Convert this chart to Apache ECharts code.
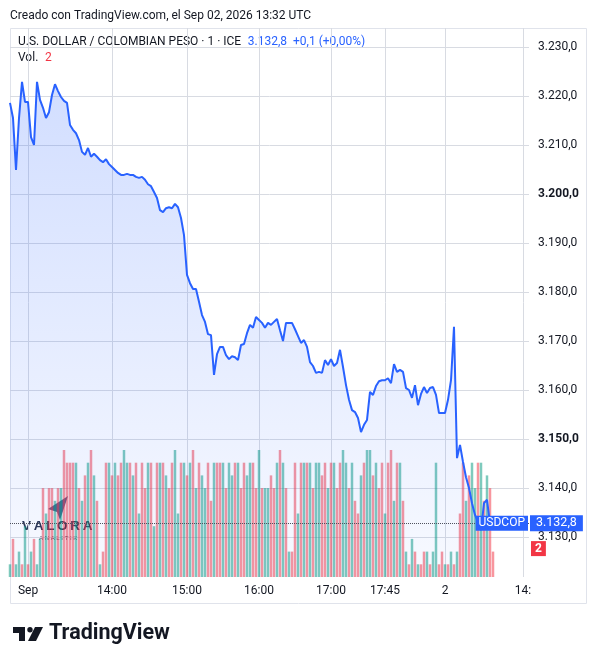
<!DOCTYPE html>
<html>
<head>
<meta charset="utf-8">
<script src="https://cdn.jsdelivr.net/npm/echarts@6/dist/echarts.min.js"></script>
<style>
  html, body { margin: 0; padding: 0; background: #fff; }
  #chart { width: 598px; height: 664px; }
</style>
</head>
<body>
<div id="chart"></div>
<script>
// USD/COP 1 minuto - precio de cierre (lectura aproximada del gráfico)
const priceVals = [
  3218.6, 3215.5, 3204.9, 3215.5, 3222.9, 3218.8, 3218.8, 3211.6, 3210.0, 3222.9,
  3219.2, 3217.6, 3215.5, 3216.7, 3220.2, 3222.4, 3221.0, 3219.8, 3219.0, 3218.6,
  3214.1, 3213.1, 3212.4, 3211.0, 3208.6, 3208.0, 3209.4, 3207.6, 3208.2, 3207.6,
  3206.9, 3206.5, 3207.1, 3206.1, 3205.5, 3204.9, 3204.3, 3203.9, 3203.9, 3204.1,
  3203.9, 3203.9, 3203.5, 3203.3, 3203.5, 3202.9, 3202.0, 3201.6, 3200.4, 3199.2,
  3196.7, 3196.3, 3197.1, 3197.3, 3197.1, 3198.0, 3197.3, 3195.1, 3191.6, 3183.5,
  3181.8, 3180.6, 3180.6, 3178.0, 3175.3, 3173.9, 3171.4, 3171.2, 3163.1, 3167.3,
  3168.8, 3168.8, 3167.1, 3166.3, 3166.9, 3166.7, 3166.1, 3169.2, 3169.4, 3171.6,
  3173.3, 3172.7, 3174.9, 3174.3, 3173.7, 3172.7, 3173.7, 3173.3, 3173.9, 3174.5,
  3172.2, 3170.0, 3173.7, 3173.7, 3173.7, 3172.4, 3171.0, 3169.6, 3170.2, 3168.8,
  3165.7, 3164.9, 3163.5, 3163.7, 3163.5, 3166.1, 3165.1, 3166.3, 3164.9, 3165.5,
  3168.2, 3164.7, 3161.0, 3158.0, 3155.9, 3155.5, 3154.3, 3151.4, 3152.9, 3153.9,
  3159.6, 3159.0, 3160.8, 3161.8, 3162.0, 3162.0, 3162.4, 3161.4, 3165.3, 3163.7,
  3164.1, 3163.7, 3160.4, 3160.0, 3158.4, 3161.0, 3156.9, 3159.2, 3160.6, 3159.4,
  3160.4, 3160.6, 3159.0, 3155.3, 3155.3, 3155.3, 3158.0, 3162.0, 3172.9, 3146.1,
  3148.8, 3145.3, 3142.2, 3140.0, 3136.9, 3134.5, 3133.0, 3131.4, 3136.9, 3137.6,
  3132.8
];

// volumen por barra y dirección (G = sube, R = baja)
const volVals = [
  1, 3, 1, 2, 1, 4, 1, 2, 3, 1,
  3, 7, 5, 7, 7, 6, 7, 7, 10, 9,
  9, 9, 9, 7, 6, 8, 9, 10, 8, 6,
  1, 2, 9, 9, 8, 9, 8, 9, 10, 9,
  9, 8, 9, 5, 9, 7, 9, 9, 4, 9,
  9, 9, 8, 7, 9, 10, 5, 9, 9, 8,
  9, 10, 7, 9, 8, 7, 9, 6, 9, 9,
  9, 9, 7, 9, 8, 9, 9, 7, 9, 8,
  9, 9, 7, 10, 7, 7, 7, 8, 7, 9,
  10, 9, 7, 2, 2, 9, 5, 9, 9, 9,
  9, 7, 9, 9, 8, 9, 7, 9, 9, 7,
  9, 10, 9, 7, 9, 6, 5, 8, 9, 10,
  10, 8, 9, 7, 9, 5, 9, 10, 6, 9,
  9, 6, 2, 1, 3, 2, 1, 1, 2, 2,
  1, 2, 9, 1, 2, 1, 1, 2, 1, 2,
  5, 9, 6, 8, 9, 7, 9, 9, 6, 8,
  7, 2
];
const volDir =
  "GRGGRGRGRG" + "GRGRRGRGRR" + "RRGRGRGRGR" + "GRRGRGRRGG" +
  "RGRGRRGRGR" + "GRGRRGGRGR" + "GRGRGGRRGR" + "RGRGGRGRRG" +
  "GRRGRGGRRG" + "RGRGRRGRGR" + "GRGGRRGRGR" + "RGGRGRRGRG" +
  "GRGRRGRRGR" + "GRGRGRGRRG" + "RGGRRGRGRG" + "RRGRGGRGRG" + "RR";

// eje de tiempo: una posición por barra, etiquetas sólo en algunas
const slots = Array.from({ length: 174 }, (v, k) => k);
const tickIdx = [6, 34, 59, 83, 107, 125, 145, 171];
const tickText = ["Sep", "14:00", "15:00", "16:00", "17:00", "17:45", "2", "14:"];

const lastPrice = priceVals[priceVals.length - 1];
const lastVol = volVals[volVals.length - 1];

const font = "Roboto, 'Liberation Sans', sans-serif";
const blue = "#2962ff";
const ink = "#131722";
const gridColor = "#d8dbe2";
const upColor = "rgba(8,153,129,0.52)";
const downColor = "rgba(242,54,69,0.52)";
const clear = "rgba(0,0,0,0)";

function fmtPrice(v) {
  const s = v.toFixed(1).split(".");
  return s[0].replace(/\B(?=(\d{3})+(?!\d))/g, ".") + "," + s[1];
}

const chart = echarts.init(document.getElementById("chart"));
chart.setOption({
  animation: false,
  backgroundColor: "#fff",
  textStyle: { fontFamily: font },
  title: {
    text: "Creado con TradingView.com, el Sep 02, 2026 13:32 UTC",
    left: 5,
    top: 5,
    textStyle: { fontSize: 12, fontWeight: "normal", color: ink, fontFamily: font },
  },
  grid: [
    { left: 10, right: 69, top: 28, bottom: 87, outerBoundsMode: "none", containLabel: false },
    { left: 10, right: 69, top: 450, bottom: 87, outerBoundsMode: "none", containLabel: false },
  ],
  xAxis: [
    {
      type: "category",
      gridIndex: 0,
      data: slots,
      boundaryGap: false,
      axisLine: { show: false },
      axisTick: { show: false },
      axisLabel: {
        interval: (i) => tickIdx.includes(i),
        formatter: (v) => tickText[tickIdx.indexOf(Number(v))] || "",
        color: ink,
        fontSize: 12,
        margin: 8,
      },
      splitLine: {
        show: true,
        interval: (i) => tickIdx.includes(i),
        lineStyle: { color: gridColor, width: 1 },
      },
    },
    {
      type: "category",
      gridIndex: 1,
      data: slots,
      boundaryGap: false,
      show: false,
    },
  ],
  yAxis: [
    {
      type: "value",
      gridIndex: 0,
      position: "right",
      min: 3121.84,
      max: 3233.88,
      splitNumber: 11,
      minInterval: 10,
      maxInterval: 10,
      axisLine: { show: false },
      axisTick: { show: false },
      axisLabel: {
        showMinLabel: false,
        showMaxLabel: false,
        margin: 9,
        color: ink,
        fontSize: 12,
        formatter: (v) => (Math.round(v) % 50 === 0 ? "{b|" + fmtPrice(v) + "}" : fmtPrice(v)),
        rich: { b: { fontWeight: "bold", fontSize: 12, color: ink } },
      },
      splitLine: {
        show: true,
        showMinLine: false,
        showMaxLine: false,
        lineStyle: { color: gridColor, width: 1 },
      },
    },
    {
      type: "value",
      gridIndex: 1,
      min: 0,
      max: 10,
      show: false,
      splitLine: { show: false },
    },
  ],
  series: [
    {
      name: "Vol",
      type: "bar",
      xAxisIndex: 1,
      yAxisIndex: 1,
      barWidth: 2.5,
      z: 1,
      data: volVals.map((v, i) => ({
        value: v,
        itemStyle: { color: volDir[i] === "G" ? upColor : downColor },
      })),
      markLine: {
        silent: true,
        symbol: "none",
        lineStyle: { color: clear, width: 0 },
        data: [
          {
            yAxis: lastVol,
            label: {
              show: true,
              opacity: 1,
              position: "end",
              distance: 2,
              formatter: String(lastVol),
              backgroundColor: "#f23645",
              color: "#fff",
              fontSize: 12,
              fontWeight: "bold",
              padding: [2, 4, 1, 4],
              offset: [0, -3],
            },
          },
        ],
      },
    },
    {
      name: "USDCOP",
      type: "line",
      xAxisIndex: 0,
      yAxisIndex: 0,
      data: priceVals,
      showSymbol: false,
      symbol: "none",
      z: 3,
      lineStyle: { color: blue, width: 2 },
      areaStyle: {
        origin: "start",
        color: {
          type: "linear", x: 0, y: 0, x2: 0, y2: 1,
          colorStops: [
            { offset: 0, color: "rgba(41,98,255,0.3)" },
            { offset: 1, color: "rgba(41,98,255,0.05)" },
          ],
        },
      },
      markLine: {
        silent: true,
        symbol: "none",
        lineStyle: { color: "#50535e", type: "dotted", width: 1 },
        data: [
          {
            yAxis: lastPrice,
            label: {
              show: true,
              opacity: 1,
              position: "end",
              distance: 1,
              formatter: fmtPrice(lastPrice),
              backgroundColor: blue,
              color: "#fff",
              fontSize: 12.5,
              padding: [2, 6, 1, 6],
            },
          },
          {
            yAxis: lastPrice,
            lineStyle: { color: clear, width: 0 },
            label: {
              show: true,
              opacity: 1,
              position: "insideEnd",
              distance: 1,
              formatter: "USDCOP",
              backgroundColor: blue,
              color: "#fff",
              fontSize: 12,
              padding: [2, 3, 1, 3],
            },
          },
        ],
      },
    },
  ],
  graphic: [
    {
      type: "rect",
      silent: true,
      z: -1,
      shape: { x: 10.5, y: 28.5, width: 576, height: 575 },
      style: { fill: "none", stroke: "#e0e3eb", lineWidth: 1 },
    },
    {
      type: "text",
      x: 18,
      y: 42,
      style: {
        text: "{a|U.S. DOLLAR / COLOMBIAN PESO · 1 · ICE}  {b|3.132,8  +0,1 (+0,00%)}",
        verticalAlign: "middle",
        rich: {
          a: { fontSize: 12, fill: ink, fontFamily: font },
          b: { fontSize: 12, fill: blue, fontFamily: font },
        },
      },
    },
    {
      type: "text",
      x: 18,
      y: 58,
      style: {
        text: "{a|Vol.}  {b|2}",
        verticalAlign: "middle",
        rich: {
          a: { fontSize: 12, fill: ink, fontFamily: font },
          b: { fontSize: 12, fill: "#f23645", fontFamily: font },
        },
      },
    },
    // marca de agua VALORA ANALITIK
    {
      type: "group",
      z: 50,
      silent: true,
      children: [
        {
          type: "polygon",
          shape: { points: [[48, 509], [68, 496], [60, 520], [57, 512]] },
          style: { fill: "#3e5282", opacity: 0.9 },
        },
        {
          type: "text",
          x: 22,
          y: 526,
          style: {
            text: "V\u2009A\u2009L\u2009O\u2009R\u2009A",
            fontSize: 13.5,
            fontWeight: "bold",
            fontFamily: "'Liberation Sans', sans-serif",
            fill: "#2b3450",
            verticalAlign: "middle",
          },
        },
        {
          type: "text",
          x: 39,
          y: 538,
          style: {
            text: "A N A L I T I K",
            fontSize: 6,
            fontFamily: "'Liberation Sans', sans-serif",
            fill: "#4a4f5e",
            verticalAlign: "middle",
          },
        },
      ],
    },
    // logo TradingView
    {
      type: "group",
      silent: true,
      children: [
        { type: "rect", shape: { x: 13, y: 627, width: 12, height: 6 }, style: { fill: ink } },
        { type: "rect", shape: { x: 19, y: 627, width: 6, height: 14 }, style: { fill: ink } },
        { type: "circle", shape: { cx: 30, cy: 629.8, r: 2.7 }, style: { fill: ink } },
        {
          type: "polygon",
          shape: { points: [[35, 627], [43, 627], [36, 641], [28, 641]] },
          style: { fill: ink },
        },
        {
          type: "text",
          x: 49,
          y: 634,
          style: {
            text: "TradingView",
            fontSize: 21.5,
            fontWeight: "bold",
            fontFamily: font,
            fill: ink,
            verticalAlign: "middle",
          },
        },
      ],
    },
  ],
});
</script>
</body>
</html>
